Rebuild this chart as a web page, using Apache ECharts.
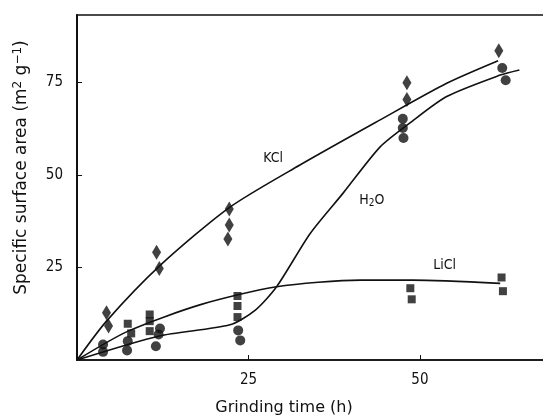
<!DOCTYPE html>
<html>
<head>
<meta charset="UTF-8">
<title>Specific surface area vs grinding time</title>
<script src="https://cdn.jsdelivr.net/npm/echarts@6/dist/echarts.min.js"></script>
<style>
    html, body { margin: 0; padding: 0; background: #fff; }
    #chart { width: 543px; height: 416px; }
</style>
</head>
<body>
<div id="chart"></div>
<script>
    // measured points [time h, area m2/g]
    var kclPoints = [[4.3, 12.8], [4.6, 9.2], [11.6, 29.1], [12.0, 24.7],
        [22.2, 40.8], [22.2, 36.5], [22.0, 32.7], [48.1, 74.9], [48.1, 70.4], [61.5, 83.6]];
    var h2oPoints = [[3.8, 4.2], [3.8, 2.2], [7.4, 5.1], [7.3, 2.6], [12.1, 8.5], [11.9, 6.9],
        [11.5, 3.7], [23.5, 8.0], [23.8, 5.3], [47.5, 65.2], [47.5, 62.7], [47.6, 60.0],
        [62.0, 78.9], [62.5, 75.6]];
    var liclPoints = [[7.4, 9.8], [7.9, 7.2], [10.6, 12.3], [10.6, 10.5], [10.6, 7.8],
        [23.4, 17.3], [23.4, 14.6], [23.4, 11.6], [48.6, 19.4], [48.8, 16.4], [61.9, 22.3], [62.1, 18.6]];

    // fitted curves
    var kclCurve = [[0, 0], [4.3, 10.5], [12.2, 25.7], [22.2, 41.2], [32.5, 52.7],
        [44.2, 64.9], [53.9, 74.8], [61.4, 80.9]];
    var h2oCurve = [[0, 0], [12, 6.5], [22.3, 9.5], [26, 13.5], [29.1, 19.8], [34, 34.2],
        [38.8, 45.1], [44.2, 57.6], [48.5, 64], [53.9, 71.2], [61.7, 77], [64.5, 78.4]];
    var liclCurve = [[0, 0], [7.45, 7.8], [17.9, 14.9], [29.1, 19.8], [41.3, 21.6],
        [49, 21.6], [61.7, 20.7]];

    var xTicks = [25, 50];
    var yTicks = [25, 50, 75];

    // curve label positions (data coords)
    var kclLabelAt = [28.6, 54.6];
    var h2oLabelAt = [43, 43.2];
    var liclLabelAt = [53.6, 25.7];

    var FONT = '"DejaVu Sans Condensed", "DejaVu Sans", sans-serif';
    var WIDE = '"DejaVu Sans", sans-serif';
    var INK = '#111';

    var chart = echarts.init(document.getElementById('chart'));

    function curve(name, data, labelAt, labelText) {
        return {
            name: name,
            type: 'line',
            data: data,
            smooth: 0.25,
            showSymbol: false,
            symbol: 'none',
            lineStyle: { color: INK, width: 1.6 },
            z: 2,
            markPoint: {
                symbol: 'circle',
                symbolSize: 0,
                data: [{ coord: labelAt, value: name }],
                label: {
                    show: true,
                    position: 'inside',
                    formatter: labelText,
                    color: INK,
                    fontFamily: FONT,
                    fontSize: 14,
                    rich: {
                        sub: { fontSize: 10, verticalAlign: 'bottom', padding: [6, 0, 0, 0], color: INK, fontFamily: FONT }
                    }
                }
            }
        };
    }

    function dots(name, data, symbol, size) {
        return {
            name: name,
            type: 'scatter',
            data: data,
            symbol: symbol,
            symbolSize: size,
            itemStyle: { color: INK },
            z: 3
        };
    }

    var option = {
        backgroundColor: '#fff',
        animation: false,
        grid: {
            left: 77, top: 15, right: -10, bottom: 56,
            outerBoundsMode: 'none',
            containLabel: false,
            show: true,
            borderColor: INK,
            borderWidth: 1.5
        },
        xAxis: {
            type: 'value',
            min: 0,
            max: 69.4,
            name: 'Grinding time (h)',
            nameLocation: 'middle',
            nameGap: 40,
            nameTextStyle: { color: INK, fontFamily: WIDE, fontSize: 16, padding: [0, 62, 0, 0] },
            axisLine: { lineStyle: { color: INK, width: 1.5 } },
            axisTick: { show: true, inside: true, length: 5, customValues: xTicks, lineStyle: { color: INK } },
            axisLabel: { customValues: xTicks, color: INK, fontFamily: FONT, fontSize: 15, margin: 13 },
            splitLine: { show: false }
        },
        yAxis: {
            type: 'value',
            min: 0,
            max: 93.24,
            name: 'Specific surface area (m{sup|2} g{sup|−1})',
            nameLocation: 'middle',
            nameRotate: 90,
            nameGap: 45,
            nameTextStyle: {
                color: INK, fontFamily: WIDE, fontSize: 17, padding: [0, 0, 0, 40],
                rich: { sup: { fontSize: 12, verticalAlign: 'top', padding: [0, 0, 8, 0], color: INK, fontFamily: WIDE } }
            },
            axisLine: { lineStyle: { color: INK, width: 2 } },
            axisTick: { show: true, inside: true, length: 5, customValues: yTicks, lineStyle: { color: INK } },
            axisLabel: { customValues: yTicks, color: INK, fontFamily: FONT, fontSize: 15, margin: 14 },
            splitLine: { show: false }
        },
        series: [
            curve('KCl', kclCurve, kclLabelAt, 'KCl'),
            curve('H2O', h2oCurve, h2oLabelAt, 'H{sub|2}O'),
            curve('LiCl', liclCurve, liclLabelAt, 'LiCl'),
            dots('KCl points', kclPoints, 'diamond', [9, 15]),
            dots('H2O points', h2oPoints, 'circle', 10),
            dots('LiCl points', liclPoints, 'rect', 8)
        ]
    };

    chart.setOption(option);
</script>
</body>
</html>
